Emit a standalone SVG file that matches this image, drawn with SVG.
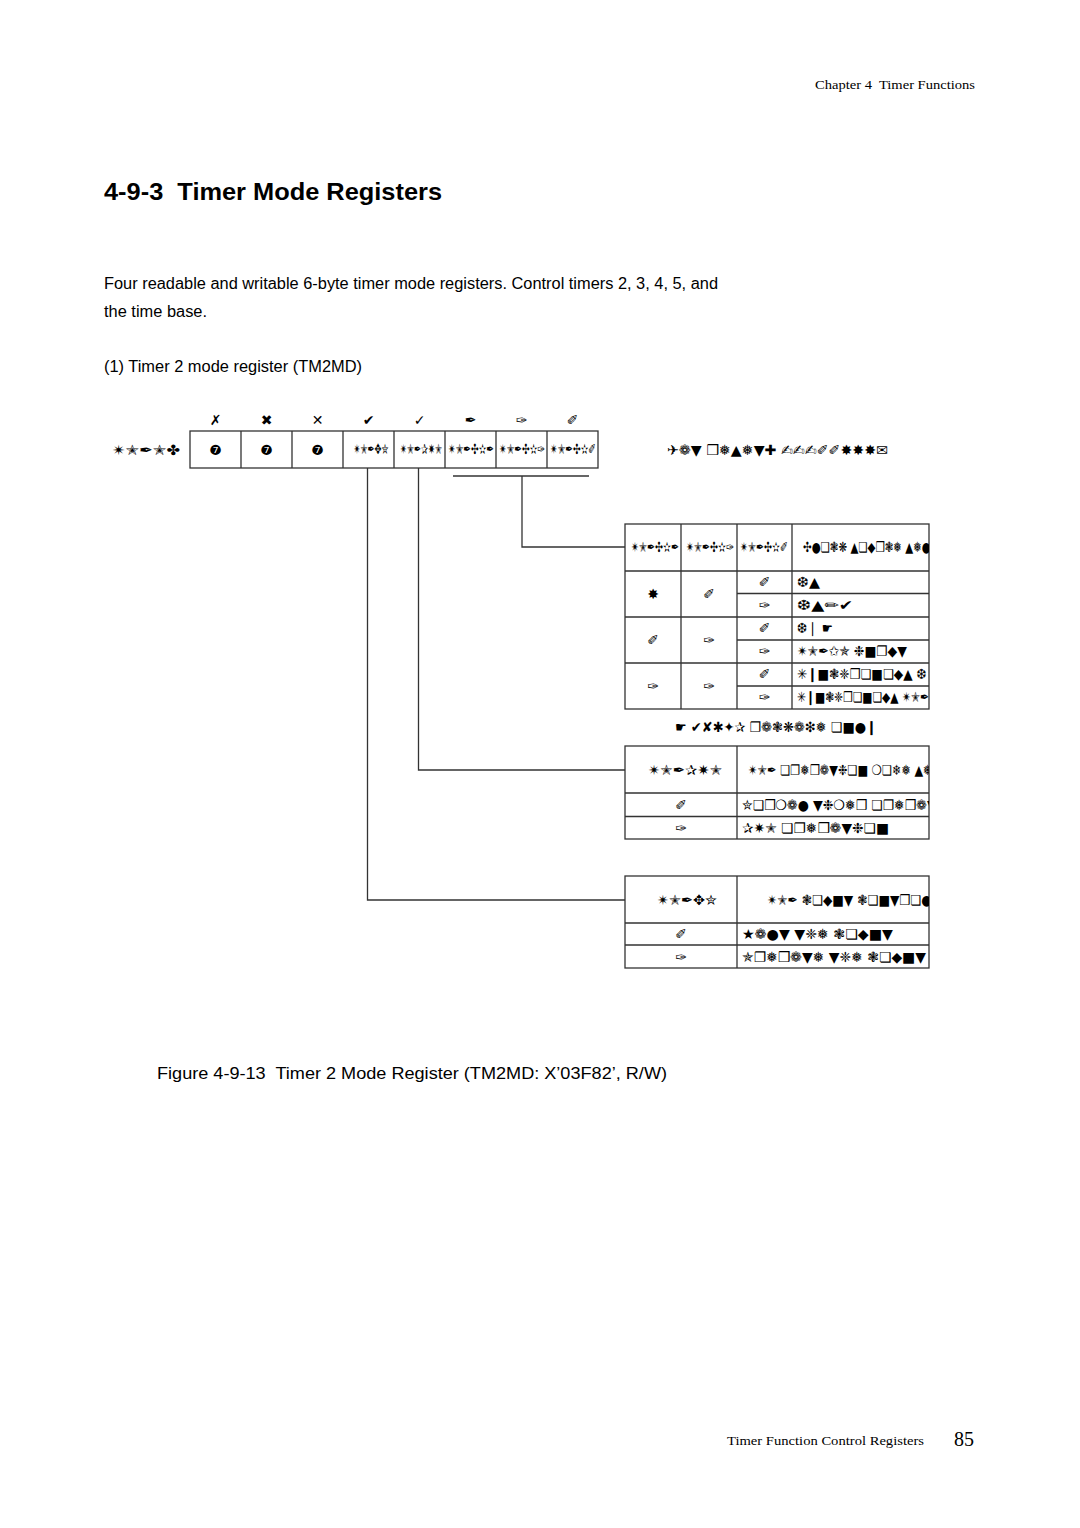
<svg xmlns="http://www.w3.org/2000/svg" width="1080" height="1528" viewBox="0 0 1080 1528">
<style>
.sans{font-family:"Liberation Sans",Arial,sans-serif;fill:#000}
.serif{font-family:"Liberation Serif","Times New Roman",serif;fill:#000}
.db{font-family:"DejaVu Sans",sans-serif;fill:#000;font-size:14px}
.dbc{font-family:"DejaVu Sans",sans-serif;fill:#000;font-size:14px;text-anchor:middle}
.box{fill:none;stroke:#333;stroke-width:1.3}
.ln{fill:none;stroke:#333;stroke-width:1.3}
</style>
<defs>
<clipPath id="clipT1"><rect x="737" y="520" width="192" height="195"/></clipPath>
<clipPath id="clipT2"><rect x="737" y="740" width="192" height="105"/></clipPath>
<clipPath id="clipT3"><rect x="737" y="870" width="192" height="105"/></clipPath>
</defs>
<rect width="1080" height="1528" fill="#fff"/>
<text class="serif" x="815" y="89" font-size="13.5" textLength="160" lengthAdjust="spacingAndGlyphs" xml:space="preserve">Chapter 4  Timer Functions</text>
<text class="sans" x="104" y="200" font-size="24" font-weight="bold" textLength="338" lengthAdjust="spacingAndGlyphs" xml:space="preserve">4-9-3  Timer Mode Registers</text>
<text class="sans" x="104" y="289" font-size="16" textLength="614" lengthAdjust="spacingAndGlyphs">Four readable and writable 6-byte timer mode registers. Control timers 2, 3, 4, 5, and</text>
<text class="sans" x="104" y="317" font-size="16" textLength="103" lengthAdjust="spacingAndGlyphs">the time base.</text>
<text class="sans" x="104" y="372" font-size="16" textLength="258" lengthAdjust="spacingAndGlyphs">(1) Timer 2 mode register (TM2MD)</text>

<g id="bitnums">
<text class="dbc" x="215.5" y="425" font-size="18">✗</text>
<text class="dbc" x="266.5" y="425" font-size="18">✖</text>
<text class="dbc" x="317.5" y="425" font-size="18">✕</text>
<text class="dbc" x="368.5" y="425" font-size="18">✔</text>
<text class="dbc" x="419.5" y="425" font-size="18">✓</text>
<text class="dbc" x="470.5" y="425" font-size="18">✒</text>
<text class="dbc" x="521.5" y="425" font-size="18">✑</text>
<text class="dbc" x="572.5" y="425" font-size="18">✐</text>
</g>

<g id="register">
<text class="db" x="112" y="455" textLength="68" lengthAdjust="spacingAndGlyphs">✴✭✒✭✤</text>
<rect class="box" x="190" y="431" width="408" height="37"/>
<path class="ln" d="M241 431V468M292 431V468M343 431V468M394 431V468M445 431V468M496 431V468M547 431V468"/>
<text class="dbc" x="215.5" y="455" font-size="18">❼</text>
<text class="dbc" x="266.5" y="455" font-size="18">❼</text>
<text class="dbc" x="317.5" y="455" font-size="18">❼</text>
<text class="dbc" x="371" y="454" font-size="8.5" textLength="35" lengthAdjust="spacingAndGlyphs">✴✭✒✥✮</text>
<text class="dbc" x="421" y="454" font-size="8.5" textLength="42" lengthAdjust="spacingAndGlyphs">✴✭✒✰✷✭</text>
<text class="dbc" x="471" y="454" font-size="8.5" textLength="46" lengthAdjust="spacingAndGlyphs">✴✭✒✣✫✒</text>
<text class="dbc" x="522" y="454" font-size="8.5" textLength="46" lengthAdjust="spacingAndGlyphs">✴✭✒✣✫✑</text>
<text class="dbc" x="573" y="454" font-size="8.5" textLength="46" lengthAdjust="spacingAndGlyphs">✴✭✒✣✫✐</text>
<text class="db" x="667" y="455" textLength="221" lengthAdjust="spacingAndGlyphs">✈❁▼ ❒❅▲❅▼✚ ✍✍✍✐✐✸✸✸✉</text>
</g>

<g id="connectors">
<path class="ln" d="M453 476H589"/>
<path class="ln" d="M522 476V547H625"/>
<path class="ln" d="M418.5 468V770H625"/>
<path class="ln" d="M367.5 468V900H625"/>
</g>

<g id="table-ck">
<rect class="box" x="625" y="524" width="304" height="185"/>
<path class="ln" d="M681 524V709M737 524V709M792 524V709"/>
<path class="ln" d="M625 571H929M625 617H929M625 663H929"/>
<path class="ln" d="M737 593.5H929M737 640H929M737 686H929"/>
<text class="dbc" x="655" y="552" font-size="8.5" textLength="48" lengthAdjust="spacingAndGlyphs">✴✭✒✣✫✒</text>
<text class="dbc" x="710" y="552" font-size="8.5" textLength="48" lengthAdjust="spacingAndGlyphs">✴✭✒✣✫✑</text>
<text class="dbc" x="764" y="552" font-size="8.5" textLength="48" lengthAdjust="spacingAndGlyphs">✴✭✒✣✫✐</text>
<text class="dbc" x="653" y="599" font-size="16">✸</text>
<text class="dbc" x="709" y="599" font-size="16">✐</text>
<text class="dbc" x="764.5" y="587" font-size="16">✐</text>
<text class="dbc" x="764.5" y="610" font-size="16">✑</text>
<text class="dbc" x="653" y="645" font-size="16">✐</text>
<text class="dbc" x="709" y="645" font-size="16">✑</text>
<text class="dbc" x="764.5" y="633" font-size="16">✐</text>
<text class="dbc" x="764.5" y="656" font-size="16">✑</text>
<text class="dbc" x="653" y="691" font-size="16">✑</text>
<text class="dbc" x="709" y="691" font-size="16">✑</text>
<text class="dbc" x="764.5" y="679" font-size="16">✐</text>
<text class="dbc" x="764.5" y="702" font-size="16">✑</text>
<g clip-path="url(#clipT1)">
<text class="db" x="803" y="552" textLength="153" lengthAdjust="spacingAndGlyphs">✣●❏❃❋ ▲❏◆❒❃❅ ▲❅●❅❃▼</text>
<text class="db" x="797" y="587" textLength="23" lengthAdjust="spacingAndGlyphs">❆▲</text>
<text class="db" x="797" y="610" textLength="56" lengthAdjust="spacingAndGlyphs">❆▲✏✔</text>
<text class="db" x="797" y="633" textLength="36" lengthAdjust="spacingAndGlyphs">❆❘ ☛</text>
<text class="db" x="797" y="656" textLength="110" lengthAdjust="spacingAndGlyphs">✴✭✒✩✯ ❉■❐◆▼</text>
<text class="db" x="797" y="679" textLength="140" lengthAdjust="spacingAndGlyphs">✳❙■❃❈❒❏■❏◆▲ ❆❘</text>
<text class="db" x="797" y="702" textLength="150" lengthAdjust="spacingAndGlyphs">✳❙■❃❈❒❏■❏◆▲ ✴✭✒✩✯</text>
</g>
<text class="dbc" x="776" y="732" textLength="202" lengthAdjust="spacingAndGlyphs">☛ ✔✘✱✦✰ ❐❁❃❋❁❇❅ ❏■●❙</text>
</g>

<g id="table-pwm">
<rect class="box" x="625" y="746" width="304" height="93"/>
<path class="ln" d="M737 746V839M625 793H929M625 816.5H929"/>
<text class="dbc" x="685" y="775" textLength="74" lengthAdjust="spacingAndGlyphs">✴✭✒✰✷✭</text>
<text class="dbc" x="681" y="810" font-size="16">✐</text>
<text class="dbc" x="681" y="833" font-size="16">✑</text>
<g clip-path="url(#clipT2)">
<text class="db" x="748" y="775" textLength="222" lengthAdjust="spacingAndGlyphs">✴✭✒ ❏❐❅❒❁▼❉❏■ ❍❏❄❅ ▲❅●❅❃▼</text>
<text class="db" x="742" y="810" textLength="229" lengthAdjust="spacingAndGlyphs">✮❏❒❍❁● ▼❉❍❅❒ ❏❐❅❒❁▼❉❏■</text>
<text class="db" x="742" y="833" textLength="147" lengthAdjust="spacingAndGlyphs">✰✷✭ ❏❐❅❒❁▼❉❏■</text>
</g>
</g>

<g id="table-en">
<rect class="box" x="625" y="876" width="304" height="92"/>
<path class="ln" d="M737 876V968M625 923H929M625 945H929"/>
<text class="dbc" x="687" y="905" textLength="60" lengthAdjust="spacingAndGlyphs">✴✭✒✥✮</text>
<text class="dbc" x="681" y="939" font-size="16">✐</text>
<text class="dbc" x="681" y="962" font-size="16">✑</text>
<g clip-path="url(#clipT3)">
<text class="db" x="767" y="905" textLength="165" lengthAdjust="spacingAndGlyphs">✴✭✒ ❃❏◆■▼ ❃❏■▼❒❏●</text>
<text class="db" x="742" y="939" textLength="151" lengthAdjust="spacingAndGlyphs">★❁●▼ ▼❈❅ ❃❏◆■▼</text>
<text class="db" x="742" y="962" textLength="184" lengthAdjust="spacingAndGlyphs">✯❐❅❒❁▼❅ ▼❈❅ ❃❏◆■▼</text>
</g>
</g>

<text class="sans" x="157" y="1079" font-size="16" textLength="510" lengthAdjust="spacingAndGlyphs" xml:space="preserve">Figure 4-9-13  Timer 2 Mode Register (TM2MD: X’03F82’, R/W)</text>
<text class="serif" x="727" y="1445" font-size="13" textLength="197" lengthAdjust="spacingAndGlyphs">Timer Function Control Registers</text>
<text class="serif" x="954" y="1446" font-size="20">85</text>
</svg>
